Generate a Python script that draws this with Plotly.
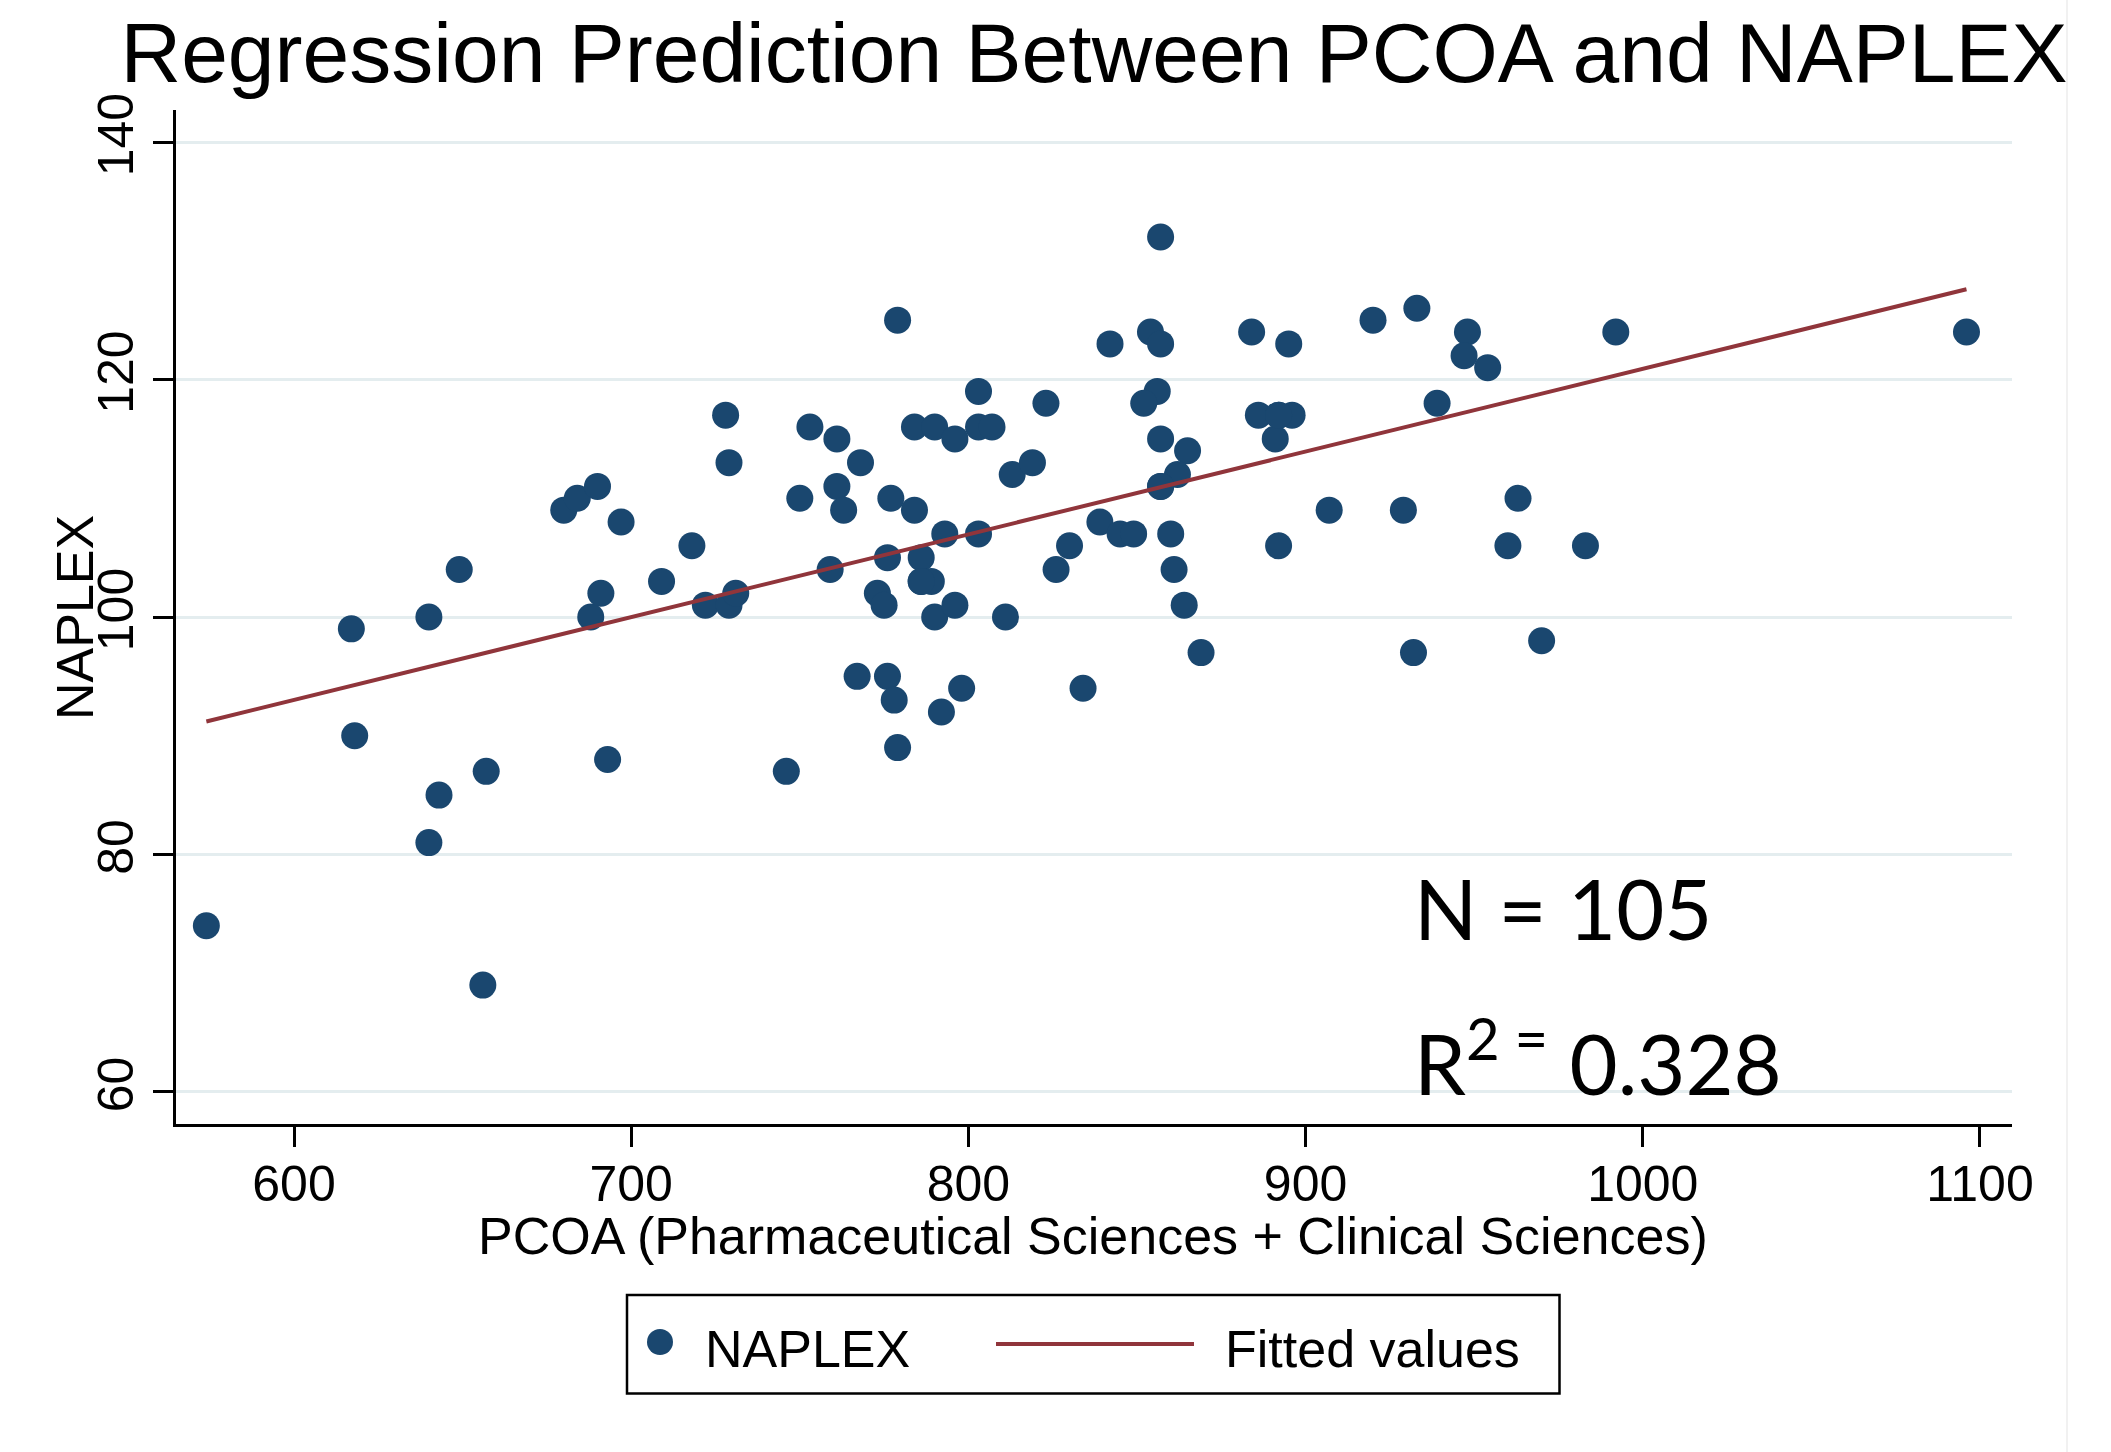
import plotly.graph_objects as go

# ---------------- data ----------------
pcoa = [574, 617, 618, 640, 640, 643, 649, 656, 657, 680, 684, 690, 688, 691, 693, 697, 709, 718, 722, 728, 729, 729, 731, 746, 750, 753,
        761, 768, 761, 763, 777, 784, 779, 784, 790, 796, 803, 807, 803, 823, 842, 854, 857, 857, 856, 852, 857, 865, 813, 819, 862, 857,
        793, 803, 839, 845, 849, 860, 830, 826, 861, 759, 776, 786, 786, 789, 773, 775, 790, 796, 811, 864, 869, 767, 776, 778, 798, 792, 779, 834,
        884, 895, 920, 933, 948, 947, 954, 992, 939, 886, 892, 896, 891, 907, 929, 963, 892, 960, 983, 932, 970, 1096,
        857, 786, 892]
naplex = [74, 99, 90, 100, 81, 85, 104, 69, 87, 109, 110, 111, 100, 102, 88, 108, 103, 106, 101, 117, 113, 101, 102, 87, 110, 116,
          115, 113, 111, 109, 110, 109, 125, 116, 116, 115, 116, 116, 119, 118, 123, 124, 123, 132, 119, 118, 115, 114, 112, 113, 112, 111,
          107, 107, 108, 107, 107, 107, 106, 104, 104, 104, 105, 105, 103, 103, 102, 101, 100, 101, 100, 101, 97, 95, 95, 93, 94, 92, 89, 94,
          124, 123, 125, 126, 124, 122, 121, 124, 118, 117, 117, 117, 115, 109, 109, 110, 106, 106, 106, 97, 98, 124,
          111, 103, 117]
fit_x = [574, 1096]
fit_y = [91.2, 127.6]

x_ticks = [600, 700, 800, 900, 1000, 1100]
y_ticks = [60, 80, 100, 120, 140]

title_text = "Regression Prediction Between PCOA and NAPLEX"
x_title = "PCOA (Pharmaceutical Sciences + Clinical Sciences)"
y_title = "NAPLEX"
legend_labels = ["NAPLEX", "Fitted values"]
n_text = "N = 105"
r2_text = "R<sup>2 =</sup> 0.328"

# ---------------- styling ----------------
W, H = 2111, 1452
L, R, T, B = 176, 2012, 110, 1124          # plot area in pixels
NAVY = "#1a476f"
MAROON = "#90353b"
GRID = "#e4edef"
FONT = "Liberation Sans, Arial, sans-serif"


def px(xp):
    return (xp - L) / (R - L)


def py(yp):
    return (B - yp) / (B - T)


fig = go.Figure()
fig.add_trace(go.Scatter(x=pcoa, y=naplex, mode="markers", name=legend_labels[0],
                         marker=dict(color=NAVY, size=27, line=dict(width=0)),
                         showlegend=False))
fig.add_trace(go.Scatter(x=fit_x, y=fit_y, mode="lines", name=legend_labels[1],
                         line=dict(color=MAROON, width=4), showlegend=False))

axis_common = dict(showline=True, linecolor="black", linewidth=3, ticks="outside",
                   ticklen=20, tickwidth=3, tickcolor="black", zeroline=False,
                   tickfont=dict(family=FONT, size=50, color="black"))

fig.update_xaxes(range=[565, 1109.5], tickvals=x_ticks, showgrid=False,
                 ticklabelstandoff=-6, **axis_common)
fig.update_yaxes(range=[57.3, 142.7], tickvals=y_ticks, tickangle=-90, showgrid=True,
                 gridcolor=GRID, gridwidth=3, **axis_common)

annotations = [
    dict(text=y_title, x=px(75), y=py(618), xref="paper", yref="paper", textangle=-90,
         showarrow=False, xanchor="center", yanchor="middle",
         font=dict(family=FONT, size=52, color="black")),
    dict(text=x_title, x=px(1093), y=py(1236), xref="paper", yref="paper",
         showarrow=False, xanchor="center", yanchor="middle",
         font=dict(family=FONT, size=52, color="black")),
    dict(text=legend_labels[0], x=px(703), y=py(1349), xref="paper", yref="paper",
         showarrow=False, xanchor="left", yanchor="middle",
         font=dict(family=FONT, size=52, color="black")),
    dict(text=legend_labels[1], x=px(1223), y=py(1349), xref="paper", yref="paper",
         showarrow=False, xanchor="left", yanchor="middle",
         font=dict(family=FONT, size=52, color="black")),
    dict(text=n_text, x=px(1412), y=py(908), xref="paper", yref="paper",
         showarrow=False, xanchor="left", yanchor="middle",
         font=dict(family="Lato, Open Sans, sans-serif", size=83, color="black")),
    dict(text=r2_text, x=px(1412), y=py(1058), xref="paper", yref="paper",
         showarrow=False, xanchor="left", yanchor="middle",
         font=dict(family="Lato, Open Sans, sans-serif", size=83, color="black")),
]

shapes = [
    # legend frame
    dict(type="rect", xref="paper", yref="paper", x0=px(627), x1=px(1559.5),
         y0=py(1393.5), y1=py(1295), line=dict(color="black", width=2.5)),
    # legend marker
    dict(type="circle", xref="paper", yref="paper", x0=px(647), x1=px(673),
         y0=py(1355), y1=py(1329), fillcolor=NAVY, line=dict(width=0)),
    # legend line
    dict(type="line", xref="paper", yref="paper", x0=px(996), x1=px(1194),
         y0=py(1344), y1=py(1344), line=dict(color=MAROON, width=4)),
    # faint right border of the original graph
    dict(type="line", xref="paper", yref="paper", x0=px(2067), x1=px(2067),
         y0=py(H), y1=py(0), line=dict(color="#f1f1f1", width=2)),
]

fig.update_layout(
    width=W, height=H, autosize=False,
    margin=dict(l=L, r=W - R, t=T, b=H - B, pad=0),
    paper_bgcolor="white", plot_bgcolor="white",
    title=dict(text=title_text, x=1094 / W, y=1 - 53 / H, xref="container", yref="container",
               xanchor="center", yanchor="middle",
               font=dict(family=FONT, size=84, color="black")),
    annotations=annotations, shapes=shapes, showlegend=False,
)

fig.write_html("out.html", config={"displayModeBar": False},
               post_script="document.body.style.margin='0px';document.body.style.overflow='hidden';")
